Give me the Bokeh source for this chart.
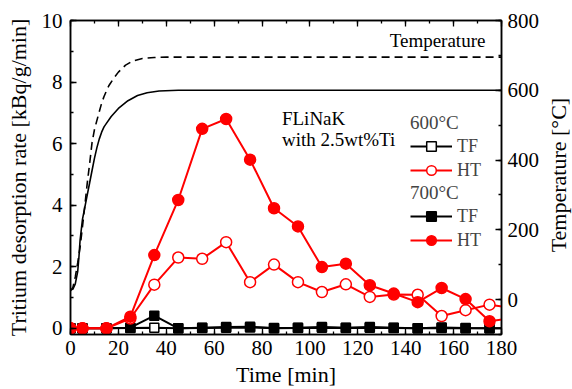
import math
from bokeh.plotting import figure
from bokeh.layouts import row
from bokeh.models import (Range1d, LinearAxis, SingleIntervalTicker, Legend,
                          LegendItem, Label, CustomLabelingPolicy)
from bokeh.embed import file_html
from bokeh.resources import INLINE

# ---- data -------------------------------------------------------------
time = [0, 5, 15, 25, 35, 45, 55, 65, 75, 85, 95, 105, 115, 125, 135, 145,
        155, 165, 175, 185]
ht700 = [0, 0, 0, 0.38, 2.38, 4.17, 6.48, 6.80, 5.48, 3.90, 3.31, 1.99, 2.10,
         1.40, 1.13, 0.85, 1.31, 0.95, 0.23, 0.34]
ht600 = [0, 0, 0, 0.32, 1.42, 2.30, 2.26, 2.80, 1.50, 2.07, 1.50, 1.18, 1.43,
         1.02, 1.10, 1.09, 0.40, 0.59, 0.77, 0.66]
tf700 = [0, 0, 0, 0.02, 0.41, 0.00, 0.02, 0.04, 0.05, 0.01, 0.02, 0.04, 0.02,
         0.04, 0.02, 0.00, 0.03, 0.01, 0.00, 0.00]
tf600 = [0, 0, 0, 0.01, 0.02, 0.00, 0.01, 0.02, 0.03, 0.00, 0.01, 0.02, 0.01,
         0.02, 0.01, 0.00, 0.01, 0.00, 0.00, 0.00]

# temperature histories (right axis, degC)
t_600 = [0, 1, 2, 3, 3.5, 4, 5, 6, 7, 8, 9, 10, 11, 12, 13, 14, 15, 17, 20,
         24, 28, 32, 37, 45, 60, 180]
T_600 = [28, 30, 45, 80, 120, 170, 230, 265, 300, 335, 370, 405, 435, 460,
         480, 495, 505, 525, 548, 570, 585, 593, 598, 600, 600, 600]
t_700 = [0, 1, 2, 3, 4, 5, 6, 7, 8, 9, 10, 11, 12, 13, 14, 15, 16, 18, 20,
         23, 26, 30, 35, 40, 50, 180]
T_700 = [25, 35, 65, 105, 150, 209, 270, 334, 390, 450, 487, 513, 538, 563,
         582, 598, 613, 634, 652, 672, 684, 691, 694, 695, 695, 695]

FONT = "Liberation Serif"
RED = "#ff0000"

p = figure(width=542, height=389, x_range=Range1d(0, 180),
           y_range=Range1d(-0.2, 10), output_backend="svg",
           toolbar_location=None, min_border_left=70, min_border_right=40,
           min_border_top=20, min_border_bottom=54)
p.extra_y_ranges = {"temp": Range1d(-100, 800)}
p.xgrid.visible = False
p.ygrid.visible = False
p.outline_line_color = "black"
p.outline_line_width = 1.5
p.background_fill_color = "white"
p.border_fill_color = "white"


def style_axis(ax):
    ax.axis_line_width = 1.5
    ax.axis_line_color = "black"
    ax.major_tick_in = 6
    ax.major_tick_out = 0
    ax.minor_tick_in = 3
    ax.minor_tick_out = 0
    ax.major_tick_line_width = 1.3
    ax.minor_tick_line_width = 1.3
    ax.major_tick_line_color = "black"
    ax.minor_tick_line_color = "black"
    ax.major_label_text_font = FONT
    ax.major_label_text_font_size = "21px"
    ax.major_label_text_font_style = "normal"
    ax.major_label_text_color = "black"
    ax.axis_label_text_font = FONT
    ax.axis_label_text_font_size = "22px"
    ax.axis_label_text_font_style = "normal"
    ax.axis_label_text_color = "black"


xax = p.xaxis[0]
xax.ticker = SingleIntervalTicker(interval=20, num_minor_ticks=2)
style_axis(xax)
xax.axis_label = "Time [min]"
xax.major_label_standoff = 6
xax.axis_label_standoff = 4

yax = p.yaxis[0]
yax.ticker = SingleIntervalTicker(interval=2, num_minor_ticks=2)
style_axis(yax)
yax.axis_label = "Tritium desorption rate [kBq/g/min]"
yax.major_label_standoff = 8
yax.axis_label_standoff = 8

rax = LinearAxis(y_range_name="temp",
                 ticker=SingleIntervalTicker(interval=200, num_minor_ticks=2))
style_axis(rax)
rax.major_label_standoff = 6
p.add_layout(rax, "right")

# mirrored ticks on top (no labels)
tax = LinearAxis(ticker=SingleIntervalTicker(interval=20, num_minor_ticks=2))
style_axis(tax)
tax.major_label_standoff = 0
tax.major_label_policy = CustomLabelingPolicy(
    code="for (const i of indices) { indices.unset(i) }\nreturn indices")
p.add_layout(tax, "above")

# temperature curves
p.line(t_600, T_600, y_range_name="temp", line_color="black", line_width=1.6)
p.line(t_700, T_700, y_range_name="temp", line_color="black", line_width=1.6,
       line_dash="8 5")

# data series
l_tf600 = p.line(time, tf600, line_color="black", line_width=2)
m_tf600 = p.scatter(time, tf600, marker="square", size=9, line_color="black",
                    fill_color="white", line_width=1.5)
l_tf700 = p.line(time, tf700, line_color="black", line_width=2)
m_tf700 = p.scatter(time, tf700, marker="square", size=9, line_color="black",
                    fill_color="black", line_width=1.5)
l_ht600 = p.line(time, ht600, line_color=RED, line_width=2)
m_ht600 = p.scatter(time, ht600, marker="circle", size=11, line_color=RED,
                    fill_color="white", line_width=1.5)
l_ht700 = p.line(time, ht700, line_color=RED, line_width=2)
m_ht700 = p.scatter(time, ht700, marker="circle", size=11, line_color=RED,
                    fill_color=RED, line_width=1.5)


def make_legend(title, items, loc):
    return Legend(items=items, title=title, location=loc,
                  orientation="vertical", padding=0, margin=0, spacing=0,
                  glyph_width=42, glyph_height=24, label_height=20,
                  label_standoff=5, title_standoff=0,
                  label_text_font=FONT, label_text_font_size="18px",
                  title_text_font=FONT, title_text_font_size="19px",
                  title_text_font_style="normal",
                  border_line_alpha=0, background_fill_alpha=0)


leg1 = make_legend("600\u00b0C",
                   [LegendItem(label="TF", renderers=[l_tf600, m_tf600]),
                    LegendItem(label="HT", renderers=[l_ht600, m_ht600])],
                   (340, 152))
leg2 = make_legend("700\u00b0C",
                   [LegendItem(label="TF", renderers=[l_tf700, m_tf700]),
                    LegendItem(label="HT", renderers=[l_ht700, m_ht700])],
                   (340, 82))
p.add_layout(leg1, "center")
p.add_layout(leg2, "center")

for txt, x, y in [("FLiNaK", 88.3, 6.83), ("with 2.5wt%Ti", 88.3, 6.12),
                  ("Temperature", 133.3, 9.35)]:
    p.add_layout(Label(x=x, y=y, text=txt, text_font=FONT,
                       text_font_size="19px", text_baseline="middle",
                       text_color="black"))

# narrow strip to the right holding the right-axis title (bottom-to-top)
q = figure(width=30, height=389, x_range=Range1d(0, 30),
           y_range=Range1d(0, 389), output_backend="svg",
           toolbar_location=None, min_border=0, x_axis_location=None,
           y_axis_location=None)
q.outline_line_color = None
q.xgrid.visible = False
q.ygrid.visible = False
q.add_layout(Label(x=16, y=197.5, text="Temperature [\u00b0C]",
                   angle=math.pi / 2, text_align="center",
                   text_baseline="middle", text_font=FONT,
                   text_font_size="22px", text_color="black"))

layout = row(p, q, spacing=0)
open("out.html", "w").write(file_html(layout, INLINE))
